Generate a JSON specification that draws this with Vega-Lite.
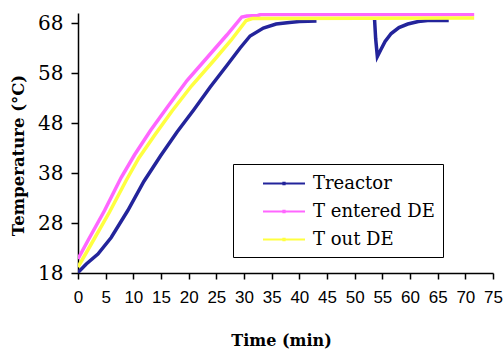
{
  "$schema": "https://vega.github.io/schema/vega-lite/v6.json",
  "autosize": "none",
  "width": 415,
  "height": 260,
  "padding": {"left": 78, "top": 13, "right": 10, "bottom": 81},
  "background": "white",
  "config": {"view": {"stroke": null}},
  "data": {
    "values": [
      {"series": "Treactor", "seg": "a", "t": 0, "T": 18.1},
      {"series": "Treactor", "seg": "a", "t": 1.5, "T": 19.8},
      {"series": "Treactor", "seg": "a", "t": 3.6, "T": 21.8},
      {"series": "Treactor", "seg": "a", "t": 6.0, "T": 25.1},
      {"series": "Treactor", "seg": "a", "t": 9.0, "T": 30.5},
      {"series": "Treactor", "seg": "a", "t": 11.9, "T": 36.3},
      {"series": "Treactor", "seg": "a", "t": 14.9, "T": 41.4},
      {"series": "Treactor", "seg": "a", "t": 17.9, "T": 46.2},
      {"series": "Treactor", "seg": "a", "t": 20.9, "T": 50.6},
      {"series": "Treactor", "seg": "a", "t": 23.9, "T": 55.2},
      {"series": "Treactor", "seg": "a", "t": 26.9, "T": 59.5},
      {"series": "Treactor", "seg": "a", "t": 29.3, "T": 63.0},
      {"series": "Treactor", "seg": "a", "t": 31.1, "T": 65.4},
      {"series": "Treactor", "seg": "a", "t": 33.5, "T": 67.0},
      {"series": "Treactor", "seg": "a", "t": 35.8, "T": 67.8},
      {"series": "Treactor", "seg": "a", "t": 38.2, "T": 68.1},
      {"series": "Treactor", "seg": "a", "t": 40.0, "T": 68.3},
      {"series": "Treactor", "seg": "a", "t": 43.1, "T": 68.4},
      {"series": "Treactor", "seg": "b", "t": 53.6, "T": 68.6},
      {"series": "Treactor", "seg": "b", "t": 53.8, "T": 64.8},
      {"series": "Treactor", "seg": "b", "t": 54.1, "T": 61.3},
      {"series": "Treactor", "seg": "b", "t": 54.7, "T": 62.6},
      {"series": "Treactor", "seg": "b", "t": 55.5, "T": 64.3},
      {"series": "Treactor", "seg": "b", "t": 56.6, "T": 65.9},
      {"series": "Treactor", "seg": "b", "t": 58.0, "T": 67.1},
      {"series": "Treactor", "seg": "b", "t": 59.6, "T": 67.8},
      {"series": "Treactor", "seg": "b", "t": 61.5, "T": 68.3},
      {"series": "Treactor", "seg": "b", "t": 63.2, "T": 68.5},
      {"series": "Treactor", "seg": "b", "t": 67.0, "T": 68.5},
      {"series": "T entered DE", "seg": "a", "t": 0, "T": 20.8},
      {"series": "T entered DE", "seg": "a", "t": 1.8, "T": 24.5},
      {"series": "T entered DE", "seg": "a", "t": 4.8, "T": 30.5},
      {"series": "T entered DE", "seg": "a", "t": 7.8, "T": 37.1},
      {"series": "T entered DE", "seg": "a", "t": 10.2, "T": 41.6},
      {"series": "T entered DE", "seg": "a", "t": 13.1, "T": 46.5},
      {"series": "T entered DE", "seg": "a", "t": 16.1, "T": 51.1},
      {"series": "T entered DE", "seg": "a", "t": 19.7, "T": 56.5},
      {"series": "T entered DE", "seg": "a", "t": 23.9, "T": 61.8},
      {"series": "T entered DE", "seg": "a", "t": 26.9, "T": 65.6},
      {"series": "T entered DE", "seg": "a", "t": 29.6, "T": 69.2},
      {"series": "T entered DE", "seg": "a", "t": 30.5, "T": 69.4},
      {"series": "T entered DE", "seg": "a", "t": 32.5, "T": 69.5},
      {"series": "T entered DE", "seg": "a", "t": 33.0, "T": 69.7},
      {"series": "T entered DE", "seg": "a", "t": 71.6, "T": 69.7},
      {"series": "T out DE", "seg": "a", "t": 0, "T": 19.2},
      {"series": "T out DE", "seg": "a", "t": 2.4, "T": 23.8},
      {"series": "T out DE", "seg": "a", "t": 5.7, "T": 30.2},
      {"series": "T out DE", "seg": "a", "t": 8.7, "T": 36.5},
      {"series": "T out DE", "seg": "a", "t": 11.0, "T": 41.0},
      {"series": "T out DE", "seg": "a", "t": 14.0, "T": 45.8},
      {"series": "T out DE", "seg": "a", "t": 17.0, "T": 50.4},
      {"series": "T out DE", "seg": "a", "t": 20.5, "T": 55.4},
      {"series": "T out DE", "seg": "a", "t": 24.7, "T": 60.7},
      {"series": "T out DE", "seg": "a", "t": 27.7, "T": 64.6},
      {"series": "T out DE", "seg": "a", "t": 30.4, "T": 68.5},
      {"series": "T out DE", "seg": "a", "t": 31.5, "T": 68.9},
      {"series": "T out DE", "seg": "a", "t": 71.6, "T": 69.0}
    ]
  },
  "mark": {"type": "line", "strokeWidth": 3.5, "clip": true},
  "encoding": {
    "x": {
      "field": "t", "type": "quantitative",
      "scale": {"domain": [0, 75], "nice": false, "zero": false},
      "axis": {
        "title": "Time (min)",
        "values": [0, 5, 10, 15, 20, 25, 30, 35, 40, 45, 50, 55, 60, 65, 70, 75],
        "grid": false,
        "domainColor": "black", "domainWidth": 1.5,
        "tickColor": "black", "tickWidth": 1.5, "tickSize": 6,
        "labelFont": "Liberation Sans", "labelFontSize": 17, "labelColor": "black",
        "labelPadding": 10, "labelFlush": false, "labelOverlap": false,
        "titleFont": "DejaVu Serif", "titleFontSize": 16, "titleFontWeight": "bold",
        "titleColor": "black", "titleX": 203, "titleAlign": "center", "titleY": 67, "titleBaseline": "middle"
      }
    },
    "y": {
      "field": "T", "type": "quantitative",
      "scale": {"domain": [18, 70], "nice": false, "zero": false},
      "axis": {
        "title": "Temperature (°C)",
        "values": [18, 28, 38, 48, 58, 68],
        "grid": false,
        "domainColor": "black", "domainWidth": 1.5,
        "tickColor": "black", "tickWidth": 1.5, "tickSize": 7,
        "labelFont": "DejaVu Serif", "labelFontSize": 20, "labelColor": "black",
        "labelPadding": 8, "labelFlush": false, "labelOverlap": false,
        "titleFont": "DejaVu Serif", "titleFontSize": 16.5, "titleFontWeight": "bold",
        "titleColor": "black", "titleX": -60, "titleY": 142, "titleBaseline": "middle", "titleAlign": "center"
      }
    },
    "color": {
      "field": "series", "type": "nominal",
      "scale": {"domain": ["Treactor", "T entered DE", "T out DE"], "range": ["#23249b", "#ff66ff", "#ffff40"]},
      "legend": {
        "title": null,
        "orient": "none", "legendX": 155, "legendY": 151,
        "direction": "vertical",
        "symbolType": "M-2,0H2M-0.06,-0.06H0.06V0.06H-0.06Z", "symbolSize": 441, "symbolStrokeWidth": 2,
        "symbolOffset": 31.5,
        "labelFont": "DejaVu Serif", "labelFontSize": 18, "labelColor": "black",
        "labelOffset": 17.5, "labelLimit": 300,
        "labelExpr": "datum.label + '\u2007\u2007'",
        "rowPadding": 7, "padding": 8,
        "strokeColor": "black", "fillColor": "white"
      }
    },
    "detail": {"field": "seg"}
  }
}
